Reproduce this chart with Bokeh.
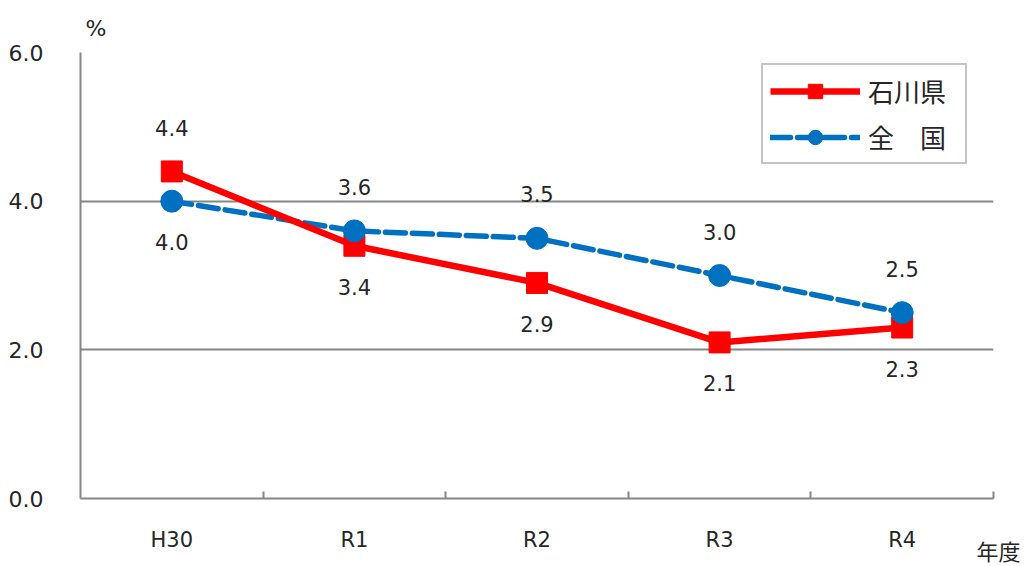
from bokeh.plotting import figure
from bokeh.models import (ColumnDataSource, Range1d, LinearAxis, FixedTicker, Label,
                          Legend, LegendItem, CustomJSTickFormatter)
from bokeh.embed import file_html
from bokeh.resources import INLINE

# Data: rate (%) by fiscal year
years = ["H30", "R1", "R2", "R3", "R4"]
ishikawa = [4.4, 3.4, 2.9, 2.1, 2.3]
national = [4.0, 3.6, 3.5, 3.0, 2.5]
y_ticks = [0.0, 2.0, 4.0, 6.0]

# label placement for each point: +1 above, -1 below
ishikawa_side = [1, -1, -1, -1, -1]
national_side = [-1, 1, 1, 1, 1]

RED = "#FF0000"
BLUE = "#0070C0"
GRID = "#868686"
TEXT = "#262626"
NUM_FONT = "DejaVu Sans"
JP_FONT = "Noto Sans CJK JP"

n = len(years)
centers = [i + 0.5 for i in range(n)]      # slot centres on a 0..n axis
bounds = [i + 1 for i in range(n)]         # slot boundaries (tick marks)

p = figure(width=1026, height=566, output_backend="svg", toolbar_location=None,
           x_range=Range1d(0, n), y_range=Range1d(0, 6),
           x_axis_location=None, y_axis_location=None,
           min_border_left=80, min_border_right=33,
           min_border_top=52, min_border_bottom=68)
p.outline_line_color = None
p.background_fill_color = "white"
p.border_fill_color = "white"

# y axis
yax = LinearAxis(ticker=FixedTicker(ticks=y_ticks))
yax.formatter = CustomJSTickFormatter(code="return tick.toFixed(1);")
yax.axis_line_color = GRID
yax.axis_line_width = 2
yax.major_tick_line_color = None
yax.minor_tick_line_color = None
yax.major_label_standoff = 31
yax.major_label_text_font = NUM_FONT
yax.major_label_text_font_size = "22px"
yax.major_label_text_color = TEXT
p.add_layout(yax, "left")

# x axis: boundary ticks on the line, year names centred in each slot
tick_ax = LinearAxis(ticker=FixedTicker(ticks=bounds))
tick_ax.axis_line_color = GRID
tick_ax.axis_line_width = 2
tick_ax.major_tick_line_color = GRID
tick_ax.major_tick_line_width = 2
tick_ax.major_tick_in = 7
tick_ax.major_tick_out = 0
tick_ax.minor_tick_line_color = None
tick_ax.major_label_text_font_size = "1px"
tick_ax.major_label_text_color = None
tick_ax.major_label_standoff = 0

cat_ax = LinearAxis(ticker=FixedTicker(ticks=centers),
                    major_label_overrides={c: y for c, y in zip(centers, years)})
cat_ax.axis_line_color = None
cat_ax.major_tick_line_color = None
cat_ax.minor_tick_line_color = None
cat_ax.major_label_standoff = -9
cat_ax.major_label_text_font = NUM_FONT
cat_ax.major_label_text_font_size = "21px"
cat_ax.major_label_text_color = TEXT

# unit of the x axis, drawn in its own strip under the axis line
unit_x = Label(x=5.027, y=-0.69, text="年度",
               text_font=JP_FONT, text_font_size="22px", text_color=TEXT,
               text_baseline="middle", text_align="center")
p.below = [tick_ax, unit_x, cat_ax]

# unit of the y axis, above the plot area
unit_y = Label(x=0.027, y=6.32, text="%",
               text_font=NUM_FONT, text_font_size="22px", text_color=TEXT,
               text_baseline="middle", text_align="left")
p.add_layout(unit_y, "above")

p.xgrid.grid_line_color = None
p.ygrid.ticker = FixedTicker(ticks=[2.0, 4.0, 6.0])
p.ygrid.grid_line_color = GRID
p.ygrid.grid_line_width = 2

src = ColumnDataSource(dict(
    x=centers, ish=ishikawa, nat=national,
    ish_lbl=[f"{v:.1f}" for v in ishikawa],
    nat_lbl=[f"{v:.1f}" for v in national],
    ish_off=[-43 if s > 0 else 41 for s in ishikawa_side],
    nat_off=[-44 if s > 0 else 41 for s in national_side],
))

nat_line = p.line("x", "nat", source=src, color=BLUE, line_width=5.5,
                  line_dash="20 7", line_cap="round")
ish_line = p.line("x", "ish", source=src, color=RED, line_width=6.5)
ish_mark = p.scatter("x", "ish", source=src, marker="square", size=21,
                     fill_color=RED, line_color=RED)
nat_mark = p.scatter("x", "nat", source=src, marker="circle", size=22,
                     fill_color=BLUE, line_color=BLUE)

p.text("x", "ish", text="ish_lbl", source=src, y_offset="ish_off",
       text_align="center", text_baseline="middle",
       text_font={"value": NUM_FONT}, text_font_size="21px", text_color=TEXT)
p.text("x", "nat", text="nat_lbl", source=src, y_offset="nat_off",
       text_align="center", text_baseline="middle",
       text_font={"value": NUM_FONT}, text_font_size="21px", text_color=TEXT)

legend = Legend(items=[
    LegendItem(label="石川県", renderers=[ish_line, ish_mark]),
    LegendItem(label="全\u3000国", renderers=[nat_line, nat_mark]),
], location=(681, 334))
legend.border_line_color = "#8c8c8c"
legend.border_line_width = 2
legend.background_fill_color = "white"
legend.background_fill_alpha = 1
legend.padding = 7
legend.spacing = 9
legend.margin = 0
legend.glyph_width = 90
legend.glyph_height = 36
legend.label_height = 36
legend.label_width = 90
legend.label_standoff = 8
legend.label_text_font = JP_FONT
legend.label_text_font_size = "26px"
legend.label_text_color = TEXT
p.add_layout(legend, "center")

open("out.html", "w").write(file_html(p, INLINE))
